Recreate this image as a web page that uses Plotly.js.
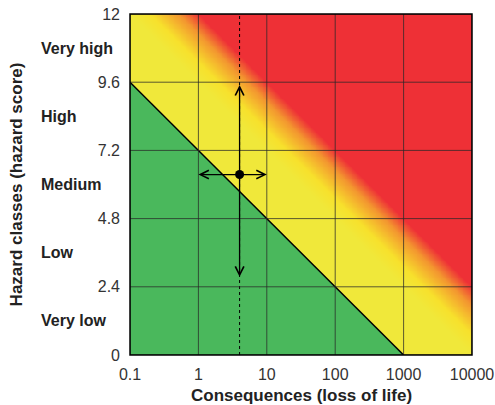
<!DOCTYPE html>
<html>
<head>
<meta charset="utf-8">
<script src="https://cdn.plot.ly/plotly-3.0.1.min.js"></script>
<style>html,body{margin:0;padding:0;background:#fff;}#chart{width:495px;height:405px;}</style>
</head>
<body>
<div id="chart"></div>
<script>
// ---- data ----
var xTickVals = [0.1, 1, 10, 100, 1000, 10000];
var xTickText = ['0.1', '1', '10', '100', '1000', '10000'];
var yTickVals = [0, 2.4, 4.8, 7.2, 9.6, 12];
var yTickText = ['0', '2.4', '4.8', '7.2', '9.6', '12'];
var classNames = ['Very low', 'Low', 'Medium', 'High', 'Very high'];
var xTitle = 'Consequences (loss of life)';
var yTitle = 'Hazard classes (hazard score)';
var greenLineX = [0.1, 1000];
var greenLineY = [9.6, 0];
var pointX = 4;
var pointY = 6.35;
var arrowLeftX = 1, arrowRightX = 10;
var arrowUpY = 9.5, arrowDownY = 2.75;
// zone scores (score = hazard + 2.4*log10(consequences))
var baseScore = 9.6;
var brightScore = 10.3;
var orangeScore = 11.3;
var redScore = 12;
var slopePerDecade = 2.4;

var GREEN = '#4ab85c', YELLOW = '#f0e83a', BRIGHT = '#f7e12c', ORANGE = '#f3962f', RED = '#ee3036';
var FONT = 'Liberation Sans, Arial, sans-serif';

// background score field on a hidden linear (log10) axis
var gx = [], gy = [], gz = [];
for (var j = 0; j <= 200; j++) gx.push(-1 + j * 0.025);
for (var i = 0; i <= 200; i++) gy.push(i * 0.06);
for (var i2 = 0; i2 < gy.length; i2++) {
  var row = [];
  for (var j2 = 0; j2 < gx.length; j2++) row.push(gy[i2] + slopePerDecade * gx[j2]);
  gz.push(row);
}
var span = redScore - baseScore;
var heat = {
  type: 'heatmap', x: gx, y: gy, z: gz, xaxis: 'x', yaxis: 'y',
  zmin: baseScore, zmax: redScore, zsmooth: 'best', showscale: false, hoverinfo: 'skip',
  colorscale: [[0, YELLOW], [(brightScore - baseScore) / span, BRIGHT],
               [(orangeScore - baseScore) / span, ORANGE], [1, RED]]
};

var green = {
  type: 'scatter', mode: 'lines', xaxis: 'x2', yaxis: 'y',
  x: [greenLineX[0], greenLineX[0], greenLineX[1], greenLineX[0]],
  y: [0, greenLineY[0], greenLineY[1], 0],
  fill: 'toself', fillcolor: GREEN, line: {width: 0}, hoverinfo: 'skip'
};
var diag = {
  type: 'scatter', mode: 'lines', xaxis: 'x2', yaxis: 'y',
  x: greenLineX, y: greenLineY, line: {color: '#000', width: 1.5}, hoverinfo: 'skip'
};
var dotted = {
  type: 'scatter', mode: 'lines', xaxis: 'x2', yaxis: 'y',
  x: [pointX, pointX], y: [yTickVals[0], yTickVals[yTickVals.length - 1]],
  line: {color: '#000', width: 1, dash: 'dot'}, hoverinfo: 'skip'
};
var dot = {
  type: 'scatter', mode: 'markers', xaxis: 'x2', yaxis: 'y',
  x: [pointX], y: [pointY], marker: {color: '#000', size: 9}, hoverinfo: 'skip'
};

var shapes = [];
xTickVals.forEach(function (v) {
  shapes.push({type: 'line', xref: 'x2', yref: 'paper', x0: v, x1: v, y0: 0, y1: 1,
    line: {color: 'rgba(40,40,40,0.75)', width: 1}, layer: 'above'});
});
yTickVals.forEach(function (v) {
  shapes.push({type: 'line', xref: 'paper', yref: 'y', x0: 0, x1: 1, y0: v, y1: v,
    line: {color: 'rgba(40,40,40,0.75)', width: 1}, layer: 'above'});
});
shapes.push({type: 'rect', xref: 'paper', yref: 'paper', x0: 0, x1: 1, y0: 0, y1: 1,
  line: {color: '#000', width: 1.5}, layer: 'above'});

var L = Math.log10;
function arrow(x, y) {
  return {xref: 'x2', yref: 'y', axref: 'x2', ayref: 'y', x: L(x), y: y, ax: L(pointX), ay: pointY,
    text: '', showarrow: true, arrowhead: 5, arrowsize: 1.3, arrowwidth: 1.3, arrowcolor: '#000',
    standoff: 0, startstandoff: 0};
}
var annotations = [arrow(arrowLeftX, pointY), arrow(arrowRightX, pointY),
                   arrow(pointX, arrowUpY), arrow(pointX, arrowDownY)];
classNames.forEach(function (name, k) {
  annotations.push({xref: 'paper', yref: 'y', x: -0.265, xanchor: 'left',
    y: (yTickVals[k] + yTickVals[k + 1]) / 2, yanchor: 'middle', text: '<b>' + name + '</b>', showarrow: false,
    font: {family: FONT, size: 16, color: '#222'}});
});
// x-axis title
annotations.push({xref: 'paper', yref: 'paper', x: 0.5, y: 0, xanchor: 'center', yanchor: 'middle',
  yshift: -40, text: '<b>' + xTitle + '</b>', showarrow: false,
  font: {family: FONT, size: 17, color: '#222'}});

var layout = {
  width: 495, height: 405,
  margin: {l: 130, r: 23, t: 14, b: 50},
  paper_bgcolor: '#fff', plot_bgcolor: YELLOW,
  showlegend: false,
  xaxis: {type: 'linear', range: [-1, 4], visible: false, fixedrange: true},
  xaxis2: {type: 'log', overlaying: 'x', anchor: 'y', side: 'bottom', range: [-1, 4],
    tickvals: xTickVals, ticktext: xTickText, showgrid: false, zeroline: false,
    showline: false, ticks: '', ticklabelstandoff: 8,
    tickfont: {family: FONT, size: 16, color: '#333'}},
  yaxis: {range: [0, 12], tickvals: yTickVals, ticktext: yTickText, showgrid: false,
    zeroline: false, showline: false, ticks: '', ticklabelstandoff: 9,
    tickfont: {family: FONT, size: 16, color: '#333'},
    title: {text: '<b>' + yTitle + '</b>', standoff: 70,
      font: {family: FONT, size: 17, color: '#222'}}},
  shapes: shapes,
  annotations: annotations
};

Plotly.newPlot('chart', [heat, green, diag, dotted, dot], layout, {displayModeBar: false, staticPlot: true});
</script>
</body>
</html>
